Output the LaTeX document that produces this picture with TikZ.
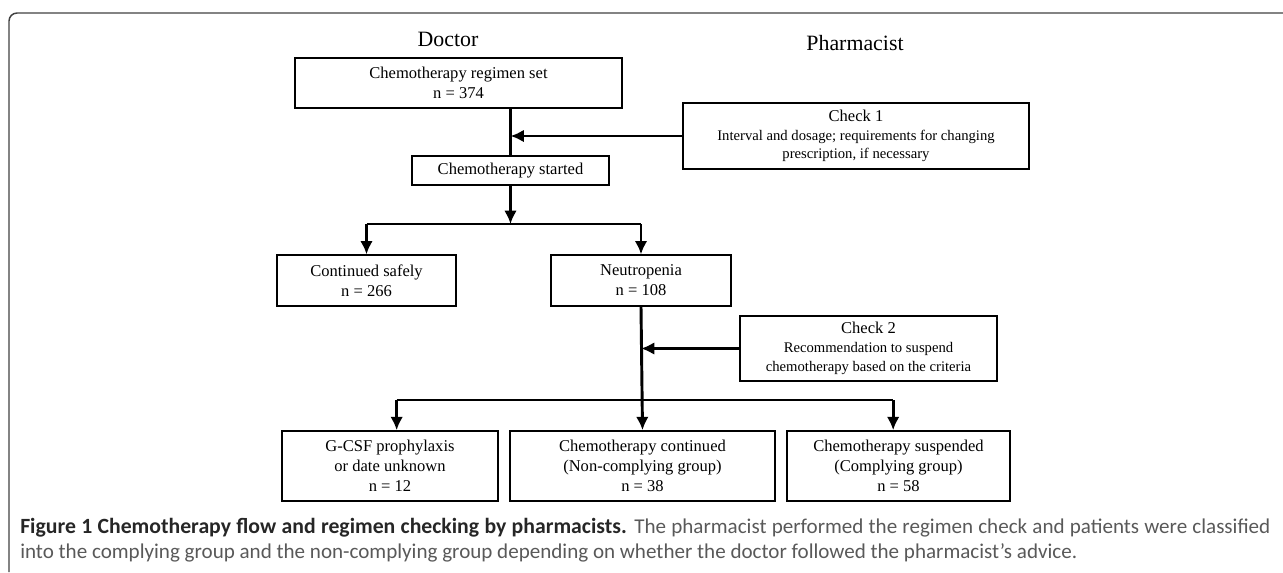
\documentclass[tikz,border=0pt]{standalone}
\usepackage{fontspec}
\setmainfont{Liberation Serif}
\newfontfamily\captionfont{Carlito}
\usetikzlibrary{shapes,arrows,arrows.meta}

\begin{document}
\begin{tikzpicture}[x=0.75pt,y=-0.75pt,
    block_center/.style ={rectangle, draw=black, line width=1.2pt, fill=white,
      align=center, inner sep=0pt,
      font=\fontsize{12.4}{15}\selectfont},
    block_check/.style ={block_center,
      font=\fontsize{11}{14}\selectfont},
    block_head/.style ={font=\fontsize{16.4}{20}\selectfont},
    block_caption/.style ={anchor=west, inner sep=0pt,
      font=\captionfont\fontsize{15.8}{19}\selectfont},
    frame/.style ={draw=black!75, line width=1.1pt, rounded corners=6pt},
    plain/.style ={draw, line width=2.2pt},
    line/.style ={draw, line width=2.2pt, -{Latex[length=10pt,width=9.5pt]}, shorten >=0pt}]
  \useasboundingbox (0,0) rectangle (1283,572);
  % figure frame (open to the right and below)
  \path[frame] (1283,13) -- (9,13) -- (9,572);
  % column heads
  \node[block_head] (doctor) at (448,39) {Doctor};
  \node[block_head] (pharm) at (855,43) {Pharmacist};
  % doctor side
  \node[block_center, minimum width=245pt, minimum height=37.5pt] (set) at (458.5,83)
    {Chemotherapy regimen set\\n = 374};
  \node[block_center, minimum width=148pt, minimum height=22pt] (started) at (510.5,170.5)
    {Chemotherapy started};
  \node[block_center, minimum width=134pt, minimum height=38pt] (safe) at (366.5,280.5)
    {Continued safely\\n = 266};
  \node[block_center, minimum width=135pt, minimum height=38pt] (neutro) at (641,280.5)
    {Neutropenia\\n = 108};
  % outcome row
  \node[block_center, minimum width=162pt, minimum height=52.5pt] (gcsf) at (390,466)
    {G-CSF prophylaxis\\or date unknown\\n = 12};
  \node[block_center, minimum width=199pt, minimum height=52.5pt] (cont) at (642.5,466)
    {Chemotherapy continued\\(Non-complying group)\\n = 38};
  \node[block_center, minimum width=167pt, minimum height=52.5pt] (susp) at (898.5,466)
    {Chemotherapy suspended\\(Complying group)\\n = 58};
  % pharmacist side
  \node[block_check, minimum width=259.5pt, minimum height=49.5pt] (check1) at (856,136)
    {{\fontsize{12.4}{15}\selectfont Check 1}\\Interval and dosage; requirements for changing\\prescription, if necessary};
  \node[block_check, minimum width=193pt, minimum height=49pt] (check2) at (868.5,348.5)
    {{\fontsize{12.4}{15}\selectfont Check 2}\\Recommendation to suspend\\chemotherapy based on the criteria};
  % branch points
  \coordinate (fork1) at (510.5,224);
  \coordinate (fork2) at (641,400);
  \coordinate (gcsf_in) at ([xshift=5pt]gcsf.north);
  \coordinate (susp_in) at ([xshift=-4pt]susp.north);
  % connectors
  \path[plain] (set.south -| started.north) -- (started.north);
  \path[plain] (fork1 -| safe.north) -- (fork1 -| neutro.north);
  \path[plain] (fork2 -| gcsf_in) -- (fork2 -| susp_in);
  \begin{scope}[every path/.style=line]
    \path (check1.west) -- (check1.west -| started.north);
    \path (started.south) -- (fork1);
    \path (fork1 -| safe.north) -- (safe.north);
    \path (fork1 -| neutro.north) -- (neutro.north);
    \path (check2.west) -- (check2.west -| neutro.south);
    \path (neutro.south) -- (cont.north);
    \path (fork2 -| gcsf_in) -- (gcsf_in);
    \path (fork2 -| susp_in) -- (susp_in);
  \end{scope}
  % caption
  \node[block_caption] (cap1) at (20,528)
    {\makebox[937.5pt][s]{{\color{black!85}\fontsize{16.3}{19}\selectfont\bfseries Figure 1 Chemotherapy flow and regimen checking by pharmacists.} {\color{black!65}The pharmacist performed the regimen check and patients were classified}}};
  \node[block_caption, text=black!65] (cap2) at (20,553)
    {into the complying group and the non-complying group depending on whether the doctor followed the pharmacist’s advice.};
\end{tikzpicture}
\end{document}
